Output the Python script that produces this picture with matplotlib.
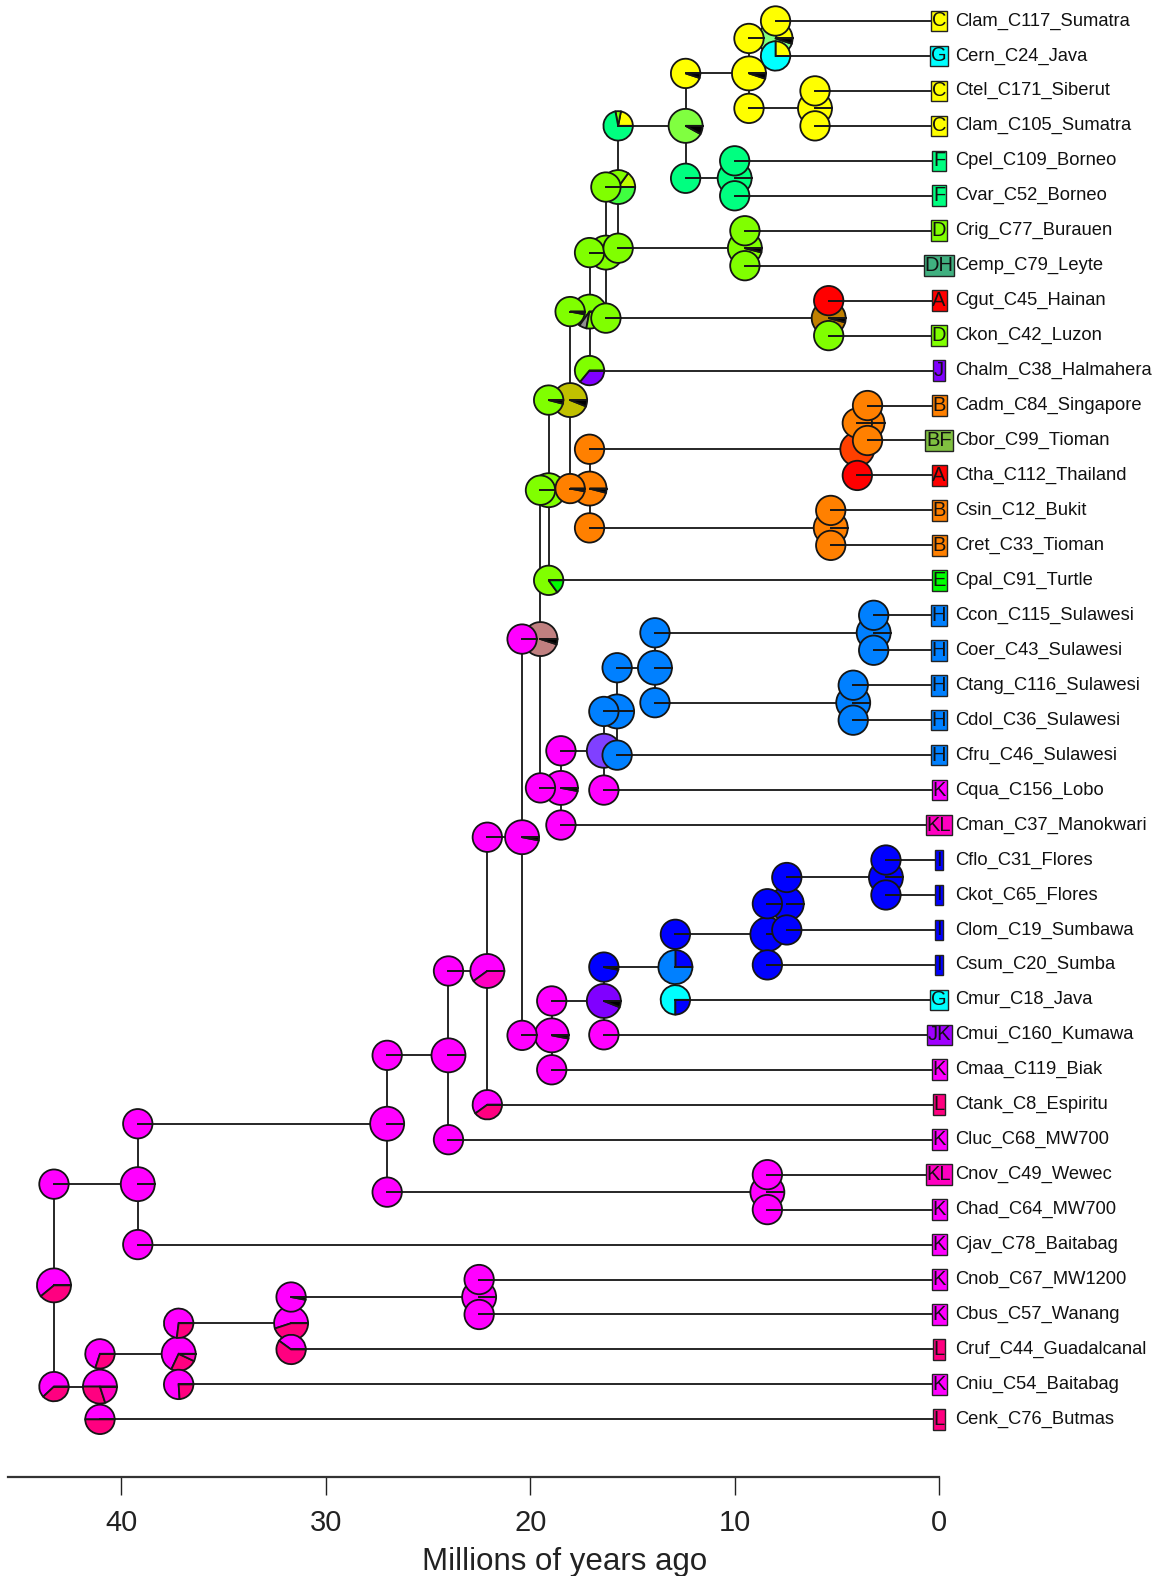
import matplotlib
matplotlib.use('Agg')
import matplotlib.pyplot as plt
from matplotlib.patches import Wedge
from matplotlib.lines import Line2D
from matplotlib.transforms import ScaledTranslation

plt.rcParams['font.family'] = ['Liberation Sans', 'DejaVu Sans']

# ---------------- data ----------------
tip_labels = ["Clam_C117_Sumatra", "Cern_C24_Java", "Ctel_C171_Siberut", "Clam_C105_Sumatra",
              "Cpel_C109_Borneo", "Cvar_C52_Borneo", "Crig_C77_Burauen", "Cemp_C79_Leyte",
              "Cgut_C45_Hainan", "Ckon_C42_Luzon", "Chalm_C38_Halmahera", "Cadm_C84_Singapore",
              "Cbor_C99_Tioman", "Ctha_C112_Thailand", "Csin_C12_Bukit", "Cret_C33_Tioman",
              "Cpal_C91_Turtle", "Ccon_C115_Sulawesi", "Coer_C43_Sulawesi", "Ctang_C116_Sulawesi",
              "Cdol_C36_Sulawesi", "Cfru_C46_Sulawesi", "Cqua_C156_Lobo", "Cman_C37_Manokwari",
              "Cflo_C31_Flores", "Ckot_C65_Flores", "Clom_C19_Sumbawa", "Csum_C20_Sumba",
              "Cmur_C18_Java", "Cmui_C160_Kumawa", "Cmaa_C119_Biak", "Ctank_C8_Espiritu",
              "Cluc_C68_MW700", "Cnov_C49_Wewec", "Chad_C64_MW700", "Cjav_C78_Baitabag",
              "Cnob_C67_MW1200", "Cbus_C57_Wanang", "Cruf_C44_Guadalcanal", "Cniu_C54_Baitabag",
              "Cenk_C76_Butmas"]
tip_areas = ["C", "G", "C", "C", "F", "F", "D", "DH", "A", "D", "J", "B", "BF", "A", "B", "B",
             "E", "H", "H", "H", "H", "H", "K", "KL", "I", "I", "I", "I", "G", "JK", "K", "L",
             "K", "KL", "K", "K", "K", "K", "L", "K", "L"]

# internal nodes: name, age (Mya), upper child, lower child (int = tip index)
node_names = ["root", "n39", "n27", "n8a", "n24", "n22", "n20", "n19b", "n19", "n18k",
              "n17g", "n16", "n157", "n124", "n93", "n8", "n6", "n10", "n95", "n54",
              "n17o", "n40", "n35", "n53", "n18", "n164", "n1575", "n139", "n32", "n42",
              "n19a", "n164b", "n129", "n84", "n745", "n26", "n41", "n372", "n317", "n225"]
node_ages = [43.3, 39.2, 27.0, 8.4, 24.0, 22.1, 20.4, 19.5, 19.1, 18.05,
             17.1, 16.3, 15.7, 12.4, 9.3, 8.0, 6.07, 10.0, 9.5, 5.4,
             17.1, 4.0, 3.5, 5.3, 18.5, 16.4, 15.75, 13.9, 3.2, 4.2,
             18.95, 16.4, 12.9, 8.4, 7.45, 2.6, 41.05, 37.2, 31.7, 22.5]
node_upper = ["n39", "n27", "n24", 33, "n22", "n20", "n19b", "n19", "n18k", "n17g",
              "n16", "n157", "n124", "n93", "n8", 0, 2, 4, 6, 8,
              "n40", "n35", 11, 14, "n164", "n1575", "n139", "n32", 17, 19,
              "n164b", "n129", "n84", "n745", "n26", 24, "n372", "n317", "n225", 36]
node_lower = ["n41", 35, "n8a", 34, 32, 31, "n19a", "n18", 16, "n17o",
              10, "n54", "n95", "n10", "n6", 1, 3, 5, 7, 9,
              "n53", 13, 12, 15, 23, 22, 21, "n42", 18, 20,
              30, 29, 28, 27, 26, 25, 40, 39, 38, 37]

# ancestral range probabilities (area:fraction), node / upper corner / lower corner
node_pie = ["K:.61 L:.39", "K", "K", "K", "K", "K:.6 KL:.4", "K:.97 X:.03", "DK:.95 X:.05", "D", "BD:.94 X:.06",
            "D:.65 Z:.07 D:.28", "D", "CD:.15 D:.35 DF:.5", "CF:.92 X:.08", "C:.95 X:.05", "C:.2 CG:.75 X:.05", "C", "F", "D:.96 X:.04", "AD:.96 X:.04",
            "B:.96 X:.04", "AB", "B", "B", "K:.97 X:.03", "HK", "H", "H", "H", "H",
            "K:.97 X:.03", "J:.94 X:.06", "I:.25 GI:.75", "I", "I", "I", "K:.5 L:.3 KL:.2", "K:.68 L:.25 KL:.07", "K:.55 L:.45", "K"]
upper_pie = ["K", "K", "K", "K", "K", "K", "K", "D", "D:.96 X:.04", "D:.97 X:.03",
             "D", "D", "C:.22 D:.06 F:.72", "C:.95 X:.05", "C", "C", "C", "F", "D", "A",
             "B", "B", "B", "B", "K", "H", "H", "H", "H", "H",
             "K", "I:.97 X:.03", "I", "I", "I", "I", "K:.7 L:.3", "K:.73 L:.27", "K:.97 X:.03", "K"]
lower_pie = ["K:.62 L:.38", "K", "K", "K", "K", "K:.6 L:.4", "K", "K", "D:.85 E:.15", "B:.97 X:.03",
             "D:.64 J:.36", "D", "D", "F", "C", "C:.25 G:.75", "C", "F", "D", "D",
             "B", "A", "B", "B", "K", "K", "H", "H", "H", "H",
             "K", "K", "G:.75 I:.25", "I", "I", "I", "K:.5 L:.5", "K:.76 L:.24", "K:.4 L:.6", "K"]

area_colors = {"A": "#FF0000", "B": "#FF8000", "C": "#FFFF00", "D": "#80FF00", "E": "#00FF00",
               "F": "#00FF80", "G": "#00FFFF", "H": "#0080FF", "I": "#0000FF", "J": "#8000FF",
               "K": "#FF00FF", "L": "#FF0080", "AB": "#FF4000", "AD": "#C08000", "BD": "#C0C000",
               "DK": "#C08080", "HK": "#8040FF", "CF": "#80FF40", "CG": "#80FF80", "CD": "#C0FF00",
               "DF": "#40FF40", "GI": "#0080FF", "KL": "#FF00C0", "DH": "#40B080", "BF": "#80C040",
               "JK": "#A000FF", "X": "#000000", "Z": "#909090"}

# ---------------- figure ----------------
fig = plt.figure(figsize=(11.58, 15.76), dpi=100)
ax = fig.add_axes([0, 0, 1, 1])
ax.set_xlim(45.94, -10.71)
ax.set_ylim(44.48, -0.60)
for s in ["left", "right", "top"]:
    ax.spines[s].set_visible(False)
ax.set_yticks([])

line_kw = dict(color="#262626", lw=1.4, solid_capstyle="butt", zorder=1)

age = {n: a for n, a in zip(node_names, node_ages)}
kids = {n: (u, l) for n, u, l in zip(node_names, node_upper, node_lower)}
ypos = {}


def get_y(c):
    if isinstance(c, int):
        return float(c)
    if c not in ypos:
        u, l = kids[c]
        ypos[c] = (get_y(u) + get_y(l)) / 2.0
    return ypos[c]


def get_age(c):
    return 0.0 if isinstance(c, int) else age[c]


for n in node_names:
    get_y(n)

# branches
for n in node_names:
    u, l = kids[n]
    ax.plot([age[n], age[n]], [get_y(u), get_y(l)], **line_kw)
    for c in (u, l):
        ax.plot([age[n], get_age(c)], [get_y(c), get_y(c)], **line_kw)


def parse(spec):
    out = []
    for p in spec.split():
        if ":" in p:
            k, v = p.split(":")
            out.append((k, float(v)))
        else:
            out.append((p, 1.0))
    tot = sum(v for _, v in out)
    return [(k, v / tot) for k, v in out]


zc = [3.0]


def draw_pie(x, y, spec, r):
    trans = fig.dpi_scale_trans + ScaledTranslation(x, y, ax.transData)
    start = 0.0
    for code, frac in parse(spec):
        th1, th2 = start * 360.0, (start + frac) * 360.0
        zc[0] += 0.001
        ax.add_patch(Wedge((0, 0), r, th1, th2, facecolor=area_colors[code],
                           edgecolor="#151515", lw=1.3, transform=trans, zorder=zc[0]))
        start += frac
    zc[0] += 0.001
    ax.add_line(Line2D([0, r], [0, 0], color="#151515", lw=1.4, transform=trans, zorder=zc[0]))


R_NODE, R_CORNER = 0.17, 0.147
for n, sp in zip(node_names, node_pie):
    draw_pie(age[n], get_y(n), sp, R_NODE)
for n, su, sl in zip(node_names, upper_pie, lower_pie):
    u, l = kids[n]
    draw_pie(age[n], get_y(u), su, R_CORNER)
    draw_pie(age[n], get_y(l), sl, R_CORNER)

# tips
for i, (lab, ar) in enumerate(zip(tip_labels, tip_areas)):
    ax.text(0, i, ar, ha="center", va="center", fontsize=14.5, color="#111111", zorder=10,
            bbox=dict(boxstyle="square,pad=0.04", fc=area_colors[ar], ec="#222222", lw=1.0))
    ax.text(-0.78, i, lab, ha="left", va="center", fontsize=13.2, color="#111111", zorder=10)

# time axis
ax.spines["bottom"].set_position(("data", 41.645))
ax.spines["bottom"].set_bounds(0, 45.55)
ax.spines["bottom"].set_linewidth(1.6)
ax.spines["bottom"].set_color("#333333")
ax.set_xticks([40, 30, 20, 10, 0])
ax.set_xticklabels(["40", "30", "20", "10", "0"])
ax.tick_params(axis="x", direction="out", length=13, width=1.0, labelsize=21, pad=10, colors="#222222")
ax.text(18.3, 44.08, "Millions of years ago", ha="center", va="center", fontsize=22.5, color="#222222")

fig.savefig("out.png", dpi=100)
